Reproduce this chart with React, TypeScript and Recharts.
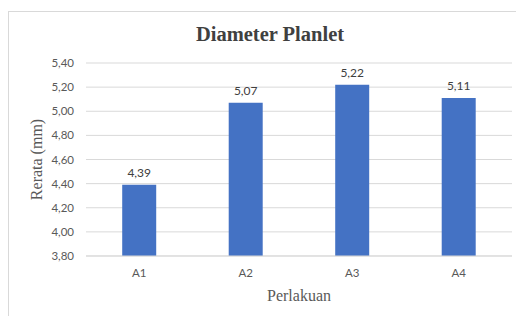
import { BarChart, Bar, XAxis, YAxis, CartesianGrid, LabelList, Label } from "recharts";

// Perlakuan A1..A4, rerata diameter planlet (mm)
const categories = ["A1", "A2", "A3", "A4"];
const rerata = [4.39, 5.07, 5.22, 5.11];
const yTicks = [3.8, 4.0, 4.2, 4.4, 4.6, 4.8, 5.0, 5.2, 5.4];

const data = categories.map((c, i) => ({ name: c, value: rerata[i] }));

const koma = (v: number) => Number(v).toFixed(2).replace(".", ",");
const tickFont = { fontFamily: "Lato, 'Open Sans', sans-serif", fontSize: 11.5, fill: "#595959" };

export default function App() {
  return (
    <div style={{ position: "absolute", left: 0, top: 0, width: 516, height: 316, overflow: "hidden", background: "#fff" }}>
      <div style={{ position: "absolute", left: 8, top: 11, width: 600, height: 400, border: "1px solid #d9d9d9" }} />
      <div
        style={{
          position: "absolute", left: 170, width: 200, top: 23, textAlign: "center",
          fontFamily: "'Liberation Serif', 'Times New Roman', serif", fontWeight: "bold", fontSize: 20.5, color: "#404040",
        }}
      >
        Diameter Planlet
      </div>
      <BarChart
        width={516}
        height={316}
        data={data}
        margin={{ top: 63, right: 4, bottom: 0, left: 8 }}
        barCategoryGap="34%"
        style={{ position: "absolute", left: 0, top: 0 }}
      >
        <CartesianGrid vertical={false} stroke="#d9d9d9" />
        <XAxis dataKey="name" height={60} tickLine={false} axisLine={{ stroke: "#d9d9d9" }} tick={tickFont} tickMargin={7}>
          <Label
            value="Perlakuan"
            position="insideBottom"
            offset={15}
            style={{ fontFamily: "'Liberation Serif', serif", fontSize: 16, fill: "#595959" }}
          />
        </XAxis>
        <YAxis
          width={78}
          domain={[3.8, 5.4]}
          ticks={yTicks}
          tickFormatter={koma}
          tickLine={false}
          axisLine={false}
          tick={tickFont}
          tickMargin={6}
        >
          <Label
            value="Rerata (mm)"
            angle={-90}
            position="insideLeft"
            offset={28}
            style={{ textAnchor: "middle", fontFamily: "'Liberation Serif', serif", fontSize: 16, fill: "#595959" }}
          />
        </YAxis>
        <Bar dataKey="value" fill="#4472c4" isAnimationActive={false}>
          <LabelList dataKey="value" position="top" formatter={(v: any) => koma(v)} style={{ ...tickFont, fontSize: 12, fill: "#404040" }} offset={8} />
        </Bar>
      </BarChart>
    </div>
  );
}
